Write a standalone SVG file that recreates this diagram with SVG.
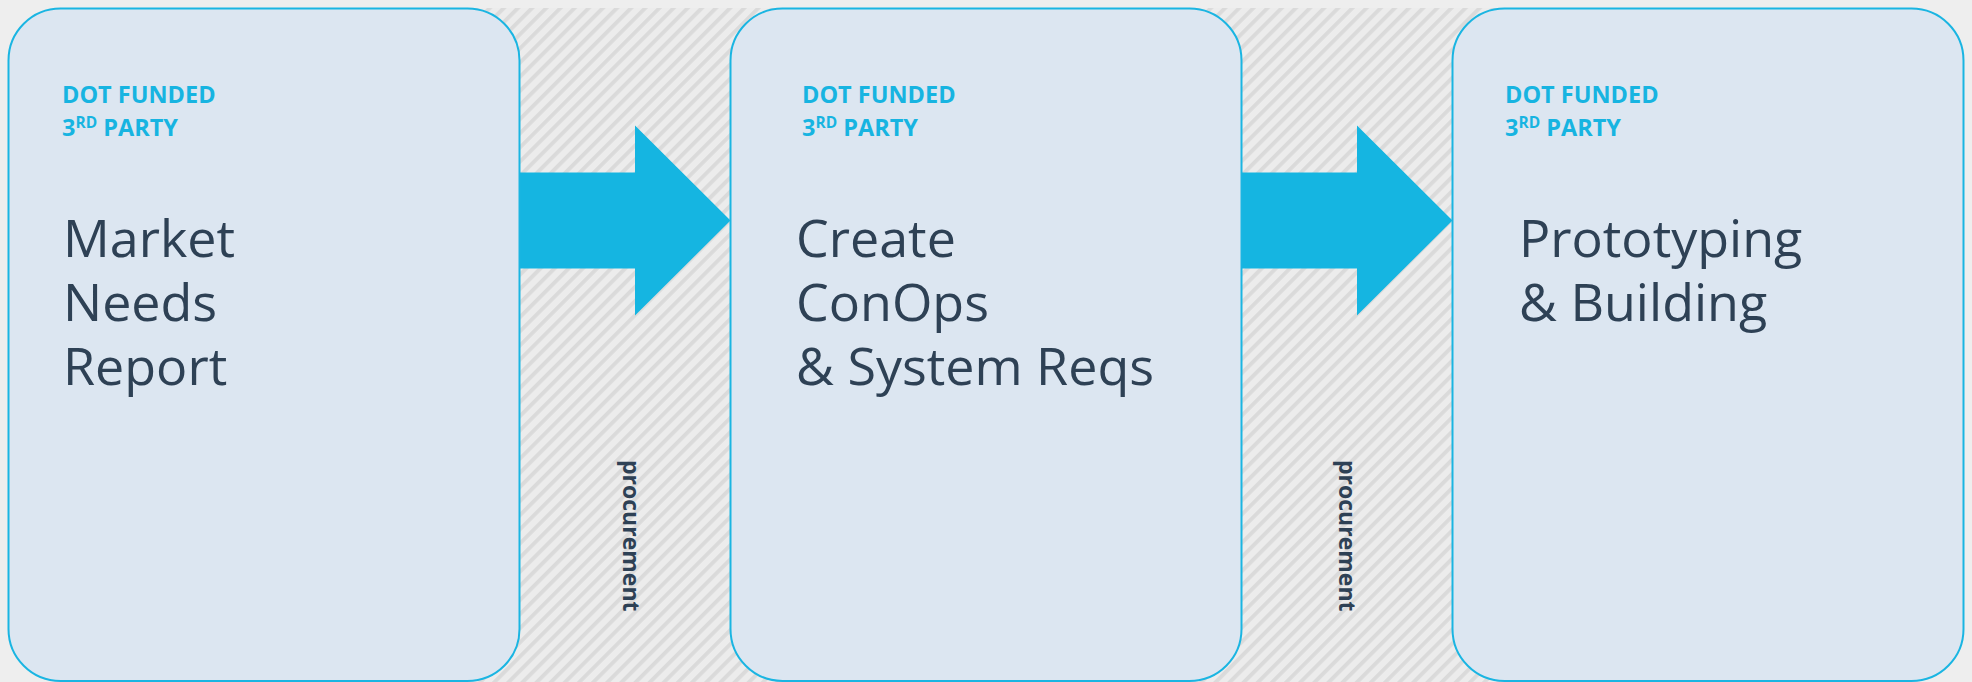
<svg xmlns="http://www.w3.org/2000/svg" width="1972" height="682" viewBox="0 0 1972 682">
<style>
.box{fill:#dce6f1;stroke:#1ab5e2;stroke-width:2}
.tag{font-family:"Open Sans","DejaVu Sans",sans-serif;font-weight:700;font-size:23.5px;fill:#17b4e1}
.title{font-family:"Open Sans","DejaVu Sans",sans-serif;font-size:52px;fill:#2e4155}
.proc{font-family:"Open Sans","DejaVu Sans",sans-serif;font-weight:700;font-size:23px;fill:#2e4155}
.arrow{fill:#15b5e1}
</style>
<defs>
<pattern id="hatch" patternUnits="userSpaceOnUse" width="10" height="10" patternTransform="rotate(45)">
<rect width="10" height="10" fill="#ececec"/>
<rect x="0" y="0" width="3.8" height="10" fill="#dadada"/>
</pattern>
</defs>
<rect width="1972" height="682" fill="#eeeeee"/>
<rect x="472" y="8" width="1028" height="674" fill="url(#hatch)"/>
<g id="connectors">
<polygon class="arrow" points="519.5,172.5 635,172.5 635,125.5 730.5,220.5 635,315.5 635,268.5 519.5,268.5"/>
<polygon class="arrow" points="1241.5,172.5 1357,172.5 1357,125.5 1452.5,220.5 1357,315.5 1357,268.5 1241.5,268.5"/>
<text class="proc" transform="translate(622.7,460) rotate(90)">procurement</text>
<text class="proc" transform="translate(1338.7,460) rotate(90)">procurement</text>
</g>
<g id="node-market">
<rect class="box" x="8.5" y="8.5" width="511" height="672.5" rx="52" ry="52"/>
<text class="tag" x="62" y="102.7">DOT FUNDED</text>
<text class="tag" x="62" y="136">3<tspan font-size="15.5px" dy="-7.7">RD</tspan><tspan dy="7.7"> PARTY</tspan></text>
<text class="title" x="63" y="256.7">Market</text>
<text class="title" x="63" y="320.7">Needs</text>
<text class="title" x="63" y="385">Report</text>
</g>
<g id="node-conops">
<rect class="box" x="730.5" y="8.5" width="511" height="672.5" rx="52" ry="52"/>
<text class="tag" x="802" y="102.7">DOT FUNDED</text>
<text class="tag" x="802" y="136">3<tspan font-size="15.5px" dy="-7.7">RD</tspan><tspan dy="7.7"> PARTY</tspan></text>
<text class="title" x="796" y="256.7">Create</text>
<text class="title" x="796" y="320.7">ConOps</text>
<text class="title" x="796" y="385">&amp; System Reqs</text>
</g>
<g id="node-prototyping">
<rect class="box" x="1452.5" y="8.5" width="511" height="672.5" rx="52" ry="52"/>
<text class="tag" x="1505" y="102.7">DOT FUNDED</text>
<text class="tag" x="1505" y="136">3<tspan font-size="15.5px" dy="-7.7">RD</tspan><tspan dy="7.7"> PARTY</tspan></text>
<text class="title" x="1519" y="256.7">Prototyping</text>
<text class="title" x="1519" y="320.7">&amp; Building</text>
</g>
</svg>
